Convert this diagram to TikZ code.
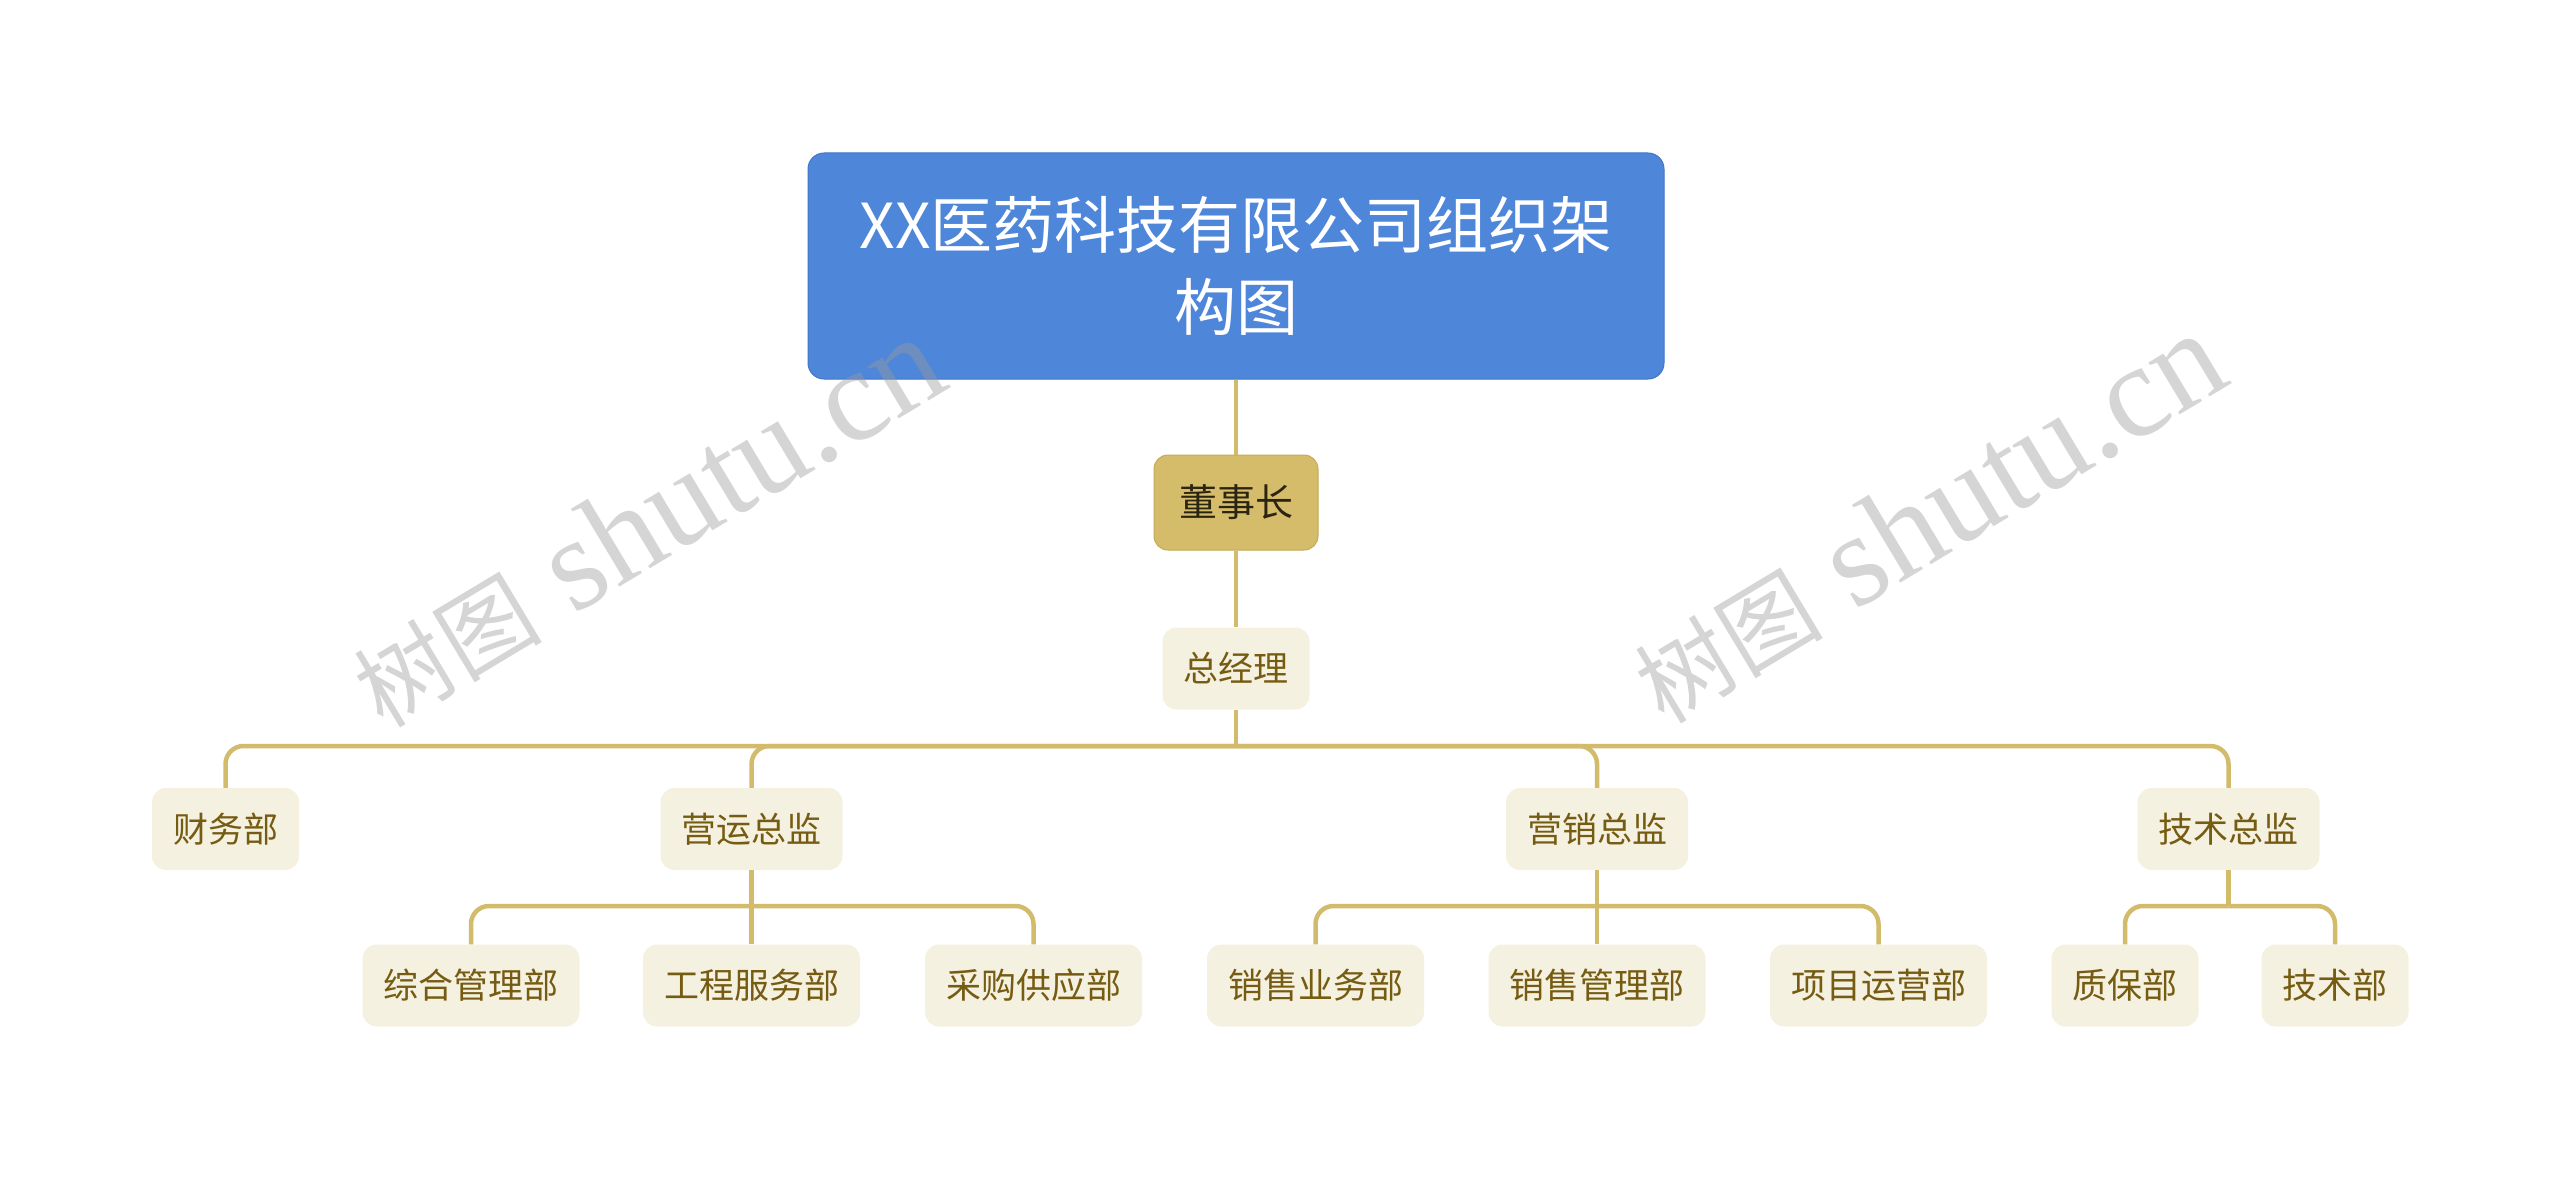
\documentclass[tikz,border=0pt]{standalone}
\usepackage{fontspec}
\setmainfont{Noto Sans CJK SC}
\newfontfamily\wmlat{Liberation Serif}
\newfontfamily\wmcjk{Noto Sans CJK SC}
\definecolor{rootblue}{HTML}{4E86DA}
\definecolor{rootedge}{HTML}{3F76C8}
\definecolor{gold}{HTML}{D2BC6C}
\definecolor{goldfill}{HTML}{D4BC6A}
\definecolor{goldedge}{HTML}{C4AA52}
\definecolor{beige}{HTML}{F5F1E1}
\definecolor{olivetext}{HTML}{765C12}
\definecolor{darktext}{HTML}{2B2410}
\definecolor{wmgray}{HTML}{9A9A9A}
\begin{document}
\begin{tikzpicture}[x=1pt,y=-1pt,
  rootbox/.style={draw=rootedge,line width=1pt,fill=rootblue,rounded corners=16pt,
    minimum width=856pt,minimum height=226pt,text=white,align=center,
    font=\fontsize{62}{82}\selectfont,inner sep=0pt},
  chairbox/.style={draw=goldedge,line width=1pt,fill=goldfill,rounded corners=14pt,
    minimum width=164pt,minimum height=95pt,text=darktext,
    font=\fontsize{38}{44}\selectfont,inner sep=0pt},
  deptbox/.style={fill=beige,rounded corners=14pt,inner xsep=21pt,inner ysep=0pt,
    minimum height=82pt,text=olivetext,font=\fontsize{35}{40}\selectfont},
  conn/.style={draw=gold,line width=4.5pt,rounded corners=18pt},
  wm/.style={text=wmgray,opacity=0.42,rotate=31,inner sep=0pt}
]
\useasboundingbox (0,0) rectangle (2560,1180);

\coordinate (b1) at (1236,746);
\coordinate (b2) at (751.5,906);
\coordinate (b3) at (1597,906);
\coordinate (b4) at (2228.5,906);

% nodes
\node[rootbox] (root) at (1236,266) {XX医药科技有限公司组织架\\构图};
\node[chairbox] (dsz) at (1236,502.5) {董事长};
\node[deptbox] (zjl) at (1236,668.5) {总经理};

\node[deptbox] (cwb) at (225.5,829) {财务部};
\node[deptbox] (yyzj) at (751.5,829) {营运总监};
\node[deptbox] (yxzj) at (1597,829) {营销总监};
\node[deptbox] (jszj) at (2228.5,829) {技术总监};

\node[deptbox] (zhglb) at (471,985.5) {综合管理部};
\node[deptbox] (gcfwb) at (751.5,985.5) {工程服务部};
\node[deptbox] (cggyb) at (1033.5,985.5) {采购供应部};
\node[deptbox] (xsywb) at (1315.5,985.5) {销售业务部};
\node[deptbox] (xsglb) at (1597,985.5) {销售管理部};
\node[deptbox] (xmyyb) at (1878.5,985.5) {项目运营部};
\node[deptbox] (zbb) at (2125,985.5) {质保部};
\node[deptbox] (jsb) at (2335,985.5) {技术部};

% connectors
\draw[conn] (root.south) -- (dsz.north);
\draw[conn] (dsz.south) -- (zjl.north);
\draw[conn] (zjl.south) -- (b1);
\draw[conn] (b1) -| (cwb.north);
\draw[conn] (b1) -| (yyzj.north);
\draw[conn] (b1) -| (yxzj.north);
\draw[conn] (b1) -| (jszj.north);

\draw[conn] (yyzj.south) -- (b2);
\draw[conn] (b2) -| (zhglb.north);
\draw[conn] (b2) -- (gcfwb.north);
\draw[conn] (b2) -| (cggyb.north);

\draw[conn] (yxzj.south) -- (b3);
\draw[conn] (b3) -| (xsywb.north);
\draw[conn] (b3) -- (xsglb.north);
\draw[conn] (b3) -| (xmyyb.north);

\draw[conn] (jszj.south) -- (b4);
\draw[conn] (b4) -| (zbb.north);
\draw[conn] (b4) -| (jsb.north);

% watermarks
\node[wm] (wm1) at (647,522) {{\wmcjk\fontsize{94}{100}\selectfont 树图}{\wmlat\fontsize{132}{150}\selectfont\ shutu.cn}};
\node[wm] (wm2) at (1928,518) {{\wmcjk\fontsize{94}{100}\selectfont 树图}{\wmlat\fontsize{132}{150}\selectfont\ shutu.cn}};
\end{tikzpicture}
\end{document}
